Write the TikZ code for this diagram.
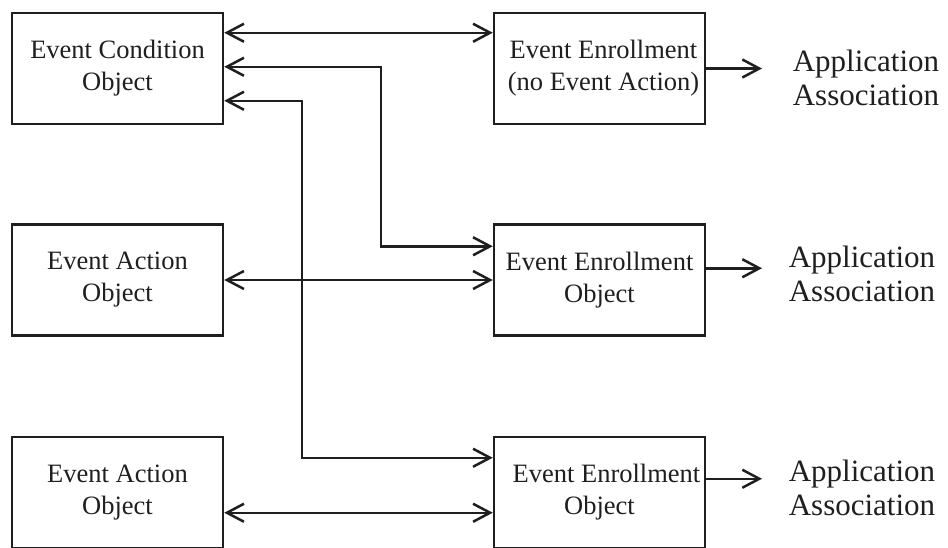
\documentclass[tikz,border=0pt]{standalone}
\usepackage{fontspec}
\setmainfont{Liberation Serif}
\usetikzlibrary{arrows.meta}
\begin{document}
\begin{tikzpicture}[x=1pt,y=-1pt,
  line width=2.5pt, draw=black!88,
  box/.style={draw, rectangle, minimum width=211pt, minimum height=111pt,
    inner sep=0pt, align=center, font=\fontsize{26.5}{32}\selectfont, text=black!88},
  apptext/.style={align=center, inner sep=0pt, font=\fontsize{31}{34}\selectfont, text=black!88},
  link/.style={{Straight Barb[length=17pt,width=18pt]}-{Straight Barb[length=17pt,width=18pt]}},
  outlink/.style={-{Straight Barb[length=17pt,width=18pt]}}]
\clip (0,0) rectangle (948,547);
\useasboundingbox (0,0) rectangle (948,547);

% object boxes
\node[box] (cond) at (117.5,68.5) {Event Condition\\Object};
\node[box] (enr1) at (599.5,68.5) {\hspace*{8pt}Event Enrollment\\\hspace*{8pt}(no Event Action)};
\node[box] (act1) at (117.5,280) {Event Action\\Object};
\node[box] (enr2) at (599.5,280) {Event Enrollment\\Object};
\node[box] (act2) at (117.5,492.5) {Event Action\\Object};
\node[box] (enr3) at (599.5,492.5) {\hspace*{14pt}Event Enrollment\\Object};

% application association labels
\node[apptext] (app1) at (866,78) {Application\\Association};
\node[apptext] (app2) at (862,274) {Application\\Association};
\node[apptext] (app3) at (862,488) {Application\\Association};

% bend points of the routed connectors
\coordinate (bendA) at (381,0);
\coordinate (bendB) at (302,0);
\coordinate (end1) at (762,0);

% links between condition, action and enrollment objects
\draw[link] ([yshift=-21pt]cond.north east) -- ([yshift=-21pt]enr1.north west);
\draw[link] ([yshift=-55pt]cond.north east) coordinate (c2)
  -- (c2 -| bendA) |- ([yshift=-23pt]enr2.north west);
\draw[link] ([yshift=-89pt]cond.north east) coordinate (c3)
  -- (c3 -| bendB) |- ([yshift=-22pt]enr3.north west);
\draw[link] (act1.east) -- (enr2.west);
\draw[link] ([yshift=-77pt]act2.north east) -- ([yshift=-77pt]enr3.north west);

% enrollments towards their application associations
\draw[outlink] (enr1.east) -- (enr1.east -| end1);
\draw[outlink] ([yshift=-45pt]enr2.north east) coordinate (e2) -- (e2 -| end1);
\draw[outlink] ([yshift=-43pt]enr3.north east) coordinate (e3) -- (e3 -| end1);
\end{tikzpicture}
\end{document}
